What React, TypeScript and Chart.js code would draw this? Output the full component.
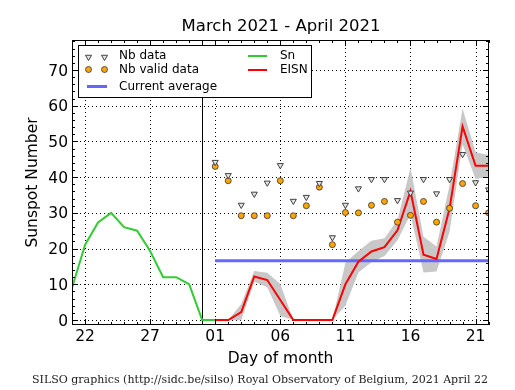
import React, { useEffect, useRef } from 'react';
import { Chart, registerables } from 'chart.js';

Chart.register(...registerables);

// ---------- text ----------
const titleText = 'March 2021 - April 2021';
const xAxisTitle = 'Day of month';
const yAxisTitle = 'Sunspot Number';
const footerText = 'SILSO graphics (http://sidc.be/silso) Royal Observatory of Belgium, 2021 April 22';
const legendLeft = ['Nb data', 'Nb valid data', 'Current average'];
const legendRight = ['Sn', 'EISN'];

// ---------- data (x = days since 2021-03-22) ----------
const snDays = [-1, 0, 1, 2, 3, 4, 5, 6, 7, 8, 9, 10];
const snValues = [9, 21, 27.3, 30, 26, 25, 19.3, 12, 12, 10, 0, 0];

const eisnDays = [10, 11, 12, 13, 14, 15, 16, 17, 18, 19, 20, 21, 22, 23, 24, 25, 26, 27, 28, 29, 30, 31];
const eisnValues = [0, 0, 2.2, 12.2, 11.2, 5.6, 0, 0, 0, 0, 10, 16.3, 19.2, 20.4, 25.1, 36.1, 18.3, 17.1, 31.2, 54.2, 43.2, 43.2];
const eisnError = [0, 0, 2.3, 1.5, 2, 4.5, 0, 0, 0, 0, 6, 3, 3, 2.5, 2.8, 6.5, 5, 3.5, 6.5, 5, 3.8, 3];
const nbData = [44.2, 40.5, 32.2, 35.3, 38.4, 43.3, 33.3, 34.4, 38.3, 23.1, 32.2, 36.8, 39.4, 39.4, 33.5, 35.6, 39.4, 35.4, 39.4, 46.4, 38.5, 36.5];
const nbValid = [43, 39, 29.2, 29.2, 29.2, 39, 29.2, 32, 37.2, 21.1, 30.1, 30, 32.1, 33.2, 27.4, 29.3, 33.2, 27.4, 31.3, 38.2, 32, 30];

const currentAverage = 16.6;
const averageDays = [10, 31];
const separatorDay = 9;

// ---------- axes ----------
const xMin = -1;
const xMax = 31.03;
const yMin = -1.4;
const yMax = 78.4;
const xTickDays = [0, 5, 10, 15, 20, 25, 30];
const xTickLabels = ['22', '27', '01', '06', '11', '16', '21'];
const xMinorDays = [-1, 0, 1, 2, 3, 4, 5, 6, 7, 8, 9, 10, 11, 12, 13, 14, 15, 16, 17, 18, 19, 20, 21, 22, 23, 24, 25, 26, 27, 28, 29, 30, 31];
const yTickValues = [0, 10, 20, 30, 40, 50, 60, 70];
const yMinorValues = [0, 2, 4, 6, 8, 10, 12, 14, 16, 18, 20, 22, 24, 26, 28, 30, 32, 34, 36, 38, 40, 42, 44, 46, 48, 50, 52, 54, 56, 58, 60, 62, 64, 66, 68, 70, 72, 74, 76, 78];

const C_GREEN = '#33cc33';
const C_RED = '#ff0000';
const C_BLUE = '#6666ff';
const C_BAND = '#c8c8c8';
const C_ORANGE = '#ffa500';
const C_TRI_FILL = '#e6e6e6';
const C_TRI_EDGE = '#404040';

const SANS = '"DejaVu Sans", sans-serif';

function pts(xs: number[], ys: number[]) {
  return xs.map((x, i) => ({ x, y: ys[i] }));
}

function downTriangle(ctx: CanvasRenderingContext2D, cx: number, cy: number, r: number) {
  ctx.beginPath();
  ctx.moveTo(cx, cy + r);
  ctx.lineTo(cx - r * Math.sin(Math.PI / 3), cy - r / 2);
  ctx.lineTo(cx + r * Math.sin(Math.PI / 3), cy - r / 2);
  ctx.closePath();
  ctx.fillStyle = C_TRI_FILL;
  ctx.fill();
  ctx.strokeStyle = C_TRI_EDGE;
  ctx.lineWidth = 1;
  ctx.stroke();
}

function dot(ctx: CanvasRenderingContext2D, cx: number, cy: number, r: number) {
  ctx.beginPath();
  ctx.arc(cx, cy, r, 0, Math.PI * 2);
  ctx.fillStyle = C_ORANGE;
  ctx.fill();
  ctx.strokeStyle = '#333';
  ctx.lineWidth = 0.8;
  ctx.stroke();
}

const decorPlugin = {
  id: 'decor',
  beforeDatasetsDraw(chart: any) {
    const { ctx, chartArea: a, scales } = chart;
    const x = scales.x;
    const y = scales.y;
    ctx.save();
    ctx.strokeStyle = '#000';
    ctx.lineWidth = 1;
    ctx.setLineDash([1, 3]);
    for (const d of xTickDays) {
      const px = Math.round(x.getPixelForValue(d)) + 0.5;
      ctx.beginPath();
      ctx.moveTo(px, a.top);
      ctx.lineTo(px, a.bottom);
      ctx.stroke();
    }
    for (const v of yTickValues) {
      const py = Math.round(y.getPixelForValue(v)) + 0.5;
      ctx.beginPath();
      ctx.moveTo(a.left, py);
      ctx.lineTo(a.right, py);
      ctx.stroke();
    }
    ctx.setLineDash([]);
    const sx = Math.round(x.getPixelForValue(separatorDay)) + 0.5;
    ctx.beginPath();
    ctx.moveTo(sx, a.top);
    ctx.lineTo(sx, a.bottom);
    ctx.stroke();
    ctx.restore();
  },
  afterDatasetsDraw(chart: any) {
    const { ctx, chartArea: a, scales } = chart;
    const x = scales.x;
    const y = scales.y;
    ctx.save();
    // frame
    ctx.strokeStyle = '#000';
    ctx.lineWidth = 1;
    ctx.strokeRect(a.left + 0.5, a.top + 0.5, a.right - a.left - 1, a.bottom - a.top - 1);
    // ticks
    const tick = (x1: number, y1: number, x2: number, y2: number) => {
      ctx.beginPath();
      ctx.moveTo(x1, y1);
      ctx.lineTo(x2, y2);
      ctx.stroke();
    };
    for (const d of xMinorDays) {
      const px = Math.round(x.getPixelForValue(d)) + 0.5;
      const len = xTickDays.includes(d) ? 6 : 3;
      tick(px, a.bottom, px, a.bottom - len);
      tick(px, a.top, px, a.top + len);
    }
    for (const v of yMinorValues) {
      const py = Math.round(y.getPixelForValue(v)) + 0.5;
      const len = yTickValues.includes(v) ? 6 : 3;
      tick(a.left, py, a.left + len, py);
      tick(a.right, py, a.right - len, py);
    }
    // tick labels
    ctx.fillStyle = '#000';
    ctx.font = `15.5px ${SANS}`;
    ctx.textBaseline = 'alphabetic';
    ctx.textAlign = 'center';
    xTickDays.forEach((d, i) => {
      ctx.fillText(xTickLabels[i], x.getPixelForValue(d), 341);
    });
    ctx.textAlign = 'right';
    yTickValues.forEach((v) => {
      ctx.fillText(String(v), a.left - 4, y.getPixelForValue(v) + 5.6);
    });
    // axis titles
    ctx.textAlign = 'center';
    ctx.fillText(xAxisTitle, (a.left + a.right) / 2, 362.5);
    ctx.save();
    ctx.translate(36.5, (a.top + a.bottom) / 2);
    ctx.rotate(-Math.PI / 2);
    ctx.fillText(yAxisTitle, 0, 0);
    ctx.restore();
    // title
    ctx.font = `16.5px ${SANS}`;
    ctx.fillText(titleText, 281, 31);
    // footer
    ctx.font = '11px "DejaVu Serif", serif';
    ctx.fillStyle = '#222';
    ctx.fillText(footerText, 260, 382.5);

    // legend
    ctx.fillStyle = '#fff';
    ctx.fillRect(78.5, 45.5, 233, 52);
    ctx.strokeStyle = '#000';
    ctx.lineWidth = 1;
    ctx.strokeRect(78.5, 45.5, 233, 52);
    const rows = [56, 70, 86.5];
    downTriangle(ctx, 88.5, rows[0] + 1, 3.5);
    downTriangle(ctx, 104.5, rows[0] + 1, 3.5);
    dot(ctx, 88.5, rows[1] - 0.5, 3);
    dot(ctx, 104.5, rows[1] - 0.5, 3);
    ctx.strokeStyle = C_BLUE;
    ctx.lineWidth = 3;
    tick(87, rows[2], 107, rows[2]);
    ctx.strokeStyle = C_GREEN;
    ctx.lineWidth = 2;
    tick(248, rows[0], 267, rows[0]);
    ctx.strokeStyle = C_RED;
    tick(248, rows[1], 267, rows[1]);
    ctx.fillStyle = '#000';
    ctx.font = `12px ${SANS}`;
    ctx.textAlign = 'left';
    ctx.textBaseline = 'middle';
    legendLeft.forEach((t, i) => ctx.fillText(t, 119, rows[i]));
    legendRight.forEach((t, i) => ctx.fillText(t, 280, rows[i]));
    ctx.restore();
  },
};

export default function App() {
  const ref = useRef<HTMLCanvasElement | null>(null);
  useEffect(() => {
    if (!ref.current) return;
    const upper = eisnValues.map((v, i) => v + eisnError[i]);
    const lower = eisnValues.map((v, i) => v - eisnError[i]);
    const chart = new Chart(ref.current, {
      type: 'scatter',
      data: {
        datasets: [
          {
            label: 'Nb data',
            data: pts(eisnDays, nbData),
            pointStyle: 'triangle',
            rotation: 180,
            pointRadius: 3.5,
            backgroundColor: C_TRI_FILL,
            borderColor: C_TRI_EDGE,
            borderWidth: 1,
            showLine: false,
            clip: 0,
            order: 0,
          },
          {
            label: 'Nb valid data',
            data: pts(eisnDays, nbValid),
            pointStyle: 'circle',
            pointRadius: 3,
            backgroundColor: C_ORANGE,
            borderColor: '#333',
            borderWidth: 0.8,
            showLine: false,
            clip: 0,
            order: 1,
          },
          {
            label: 'EISN',
            data: pts(eisnDays, eisnValues),
            showLine: true,
            borderColor: C_RED,
            borderWidth: 2,
            pointRadius: 0,
            fill: false,
            order: 2,
          },
          {
            label: 'Sn',
            data: pts(snDays, snValues),
            showLine: true,
            borderColor: C_GREEN,
            borderWidth: 2,
            pointRadius: 0,
            fill: false,
            order: 3,
          },
          {
            label: 'Current average',
            data: averageDays.map((d) => ({ x: d, y: currentAverage })),
            showLine: true,
            borderColor: C_BLUE,
            borderWidth: 3,
            pointRadius: 0,
            fill: false,
            order: 4,
          },
          {
            label: 'upper',
            data: pts(eisnDays, upper),
            showLine: true,
            borderWidth: 0,
            borderColor: 'rgba(0,0,0,0)',
            backgroundColor: C_BAND,
            pointRadius: 0,
            fill: '+1',
            order: 5,
          },
          {
            label: 'lower',
            data: pts(eisnDays, lower),
            showLine: true,
            borderWidth: 0,
            borderColor: 'rgba(0,0,0,0)',
            pointRadius: 0,
            fill: false,
            order: 6,
          },
        ],
      },
      options: {
        responsive: false,
        animation: false,
        devicePixelRatio: 1,
        layout: { padding: { left: 72, right: 26, top: 40, bottom: 65 } },
        scales: {
          x: { type: 'linear', min: xMin, max: xMax, display: false },
          y: { type: 'linear', min: yMin, max: yMax, display: false },
        },
        plugins: {
          legend: { display: false },
          tooltip: { enabled: false },
        },
      },
      plugins: [decorPlugin],
    } as any);
    return () => chart.destroy();
  }, []);
  return (
    <div style={{ position: 'fixed', left: 0, top: 0, width: 515, height: 390, background: '#fff' }}>
      <canvas ref={ref} width={515} height={390} style={{ width: 515, height: 390, display: 'block' }} />
    </div>
  );
}
